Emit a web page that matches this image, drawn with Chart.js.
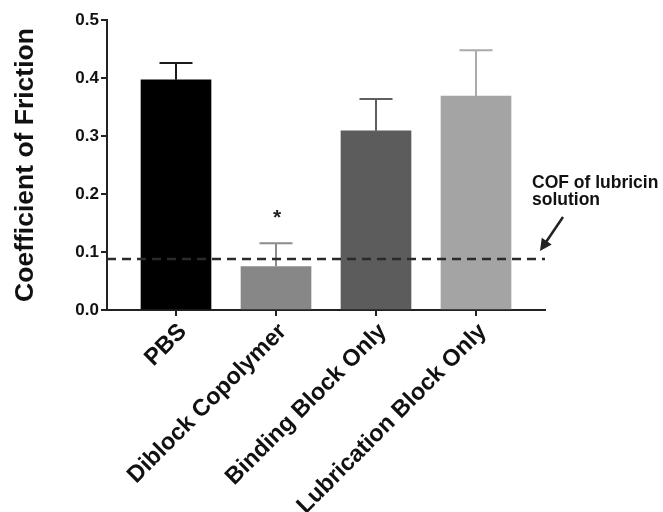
<!DOCTYPE html>
<html>
<head>
<meta charset="utf-8">
<script src="https://cdn.jsdelivr.net/npm/chart.js@4"></script>
<style>
  html, body { margin: 0; padding: 0; background: #fff; }
  #wrap { width: 663px; height: 512px; position: relative; }
</style>
</head>
<body>
<div id="wrap"><canvas id="chart"></canvas></div>
<script>
// values
const categories = ["PBS", "Diblock Copolymer", "Binding Block Only", "Lubrication Block Only"];
const means = [0.397, 0.075, 0.309, 0.369];
const errors = [0.029, 0.040, 0.055, 0.079];
const sigMarks = ["", "*", "", ""];
const lubricinCOF = 0.088;
const yTicks = [0, 0.1, 0.2, 0.3, 0.4, 0.5];

const barColors = ["#000000", "#878787", "#5c5c5c", "#a4a4a4"];
const errColors = ["#1a1a1a", "#8c8c8c", "#5f5f5f", "#aaaaaa"];
const axisColor = "#222";
const FONT = "'Liberation Sans', Arial, sans-serif";

// error bars, asterisk, dashed reference line, annotation
const extras = {
  id: "extras",
  afterDatasetsDraw(chart) {
    const ctx = chart.ctx;
    const xs = chart.scales.x, ys = chart.scales.y;
    const area = chart.chartArea;
    ctx.save();
    // error bars (upper only)
    for (let i = 0; i < means.length; i++) {
      const x = xs.getPixelForValue(i);
      const yb = ys.getPixelForValue(means[i]);
      const yt = ys.getPixelForValue(means[i] + errors[i]);
      ctx.strokeStyle = errColors[i];
      ctx.lineWidth = 2;
      ctx.beginPath();
      ctx.moveTo(x, yb);
      ctx.lineTo(x, yt);
      ctx.moveTo(x - 16.5, yt);
      ctx.lineTo(x + 16.5, yt);
      ctx.stroke();
      if (sigMarks[i]) {
        ctx.fillStyle = "#222";
        ctx.font = "bold 21px " + FONT;
        ctx.textAlign = "center";
        ctx.textBaseline = "middle";
        ctx.fillText(sigMarks[i], x + 1, yt - 25);
      }
    }
    // dashed line for lubricin solution
    const yl = ys.getPixelForValue(lubricinCOF);
    ctx.strokeStyle = "#2a2a2a";
    ctx.lineWidth = 2.5;
    ctx.setLineDash([9, 6]);
    ctx.beginPath();
    ctx.moveTo(area.left, yl);
    ctx.lineTo(area.right, yl);
    ctx.stroke();
    ctx.setLineDash([]);

    // annotation text
    ctx.fillStyle = "#111";
    ctx.font = "bold 17.5px " + FONT;
    ctx.textAlign = "left";
    ctx.textBaseline = "alphabetic";
    ctx.fillText("COF of lubricin", area.right - 13, yl - 71);
    ctx.fillText("solution", area.right - 13, yl - 54);

    // arrow
    const tipX = area.right - 5, tipY = yl - 8;
    const tailX = tipX + 23, tailY = tipY - 34;
    ctx.strokeStyle = "#222";
    ctx.fillStyle = "#222";
    ctx.lineWidth = 2.5;
    ctx.beginPath();
    ctx.moveTo(tailX, tailY);
    ctx.lineTo(tipX + 4, tipY - 6);
    ctx.stroke();
    const ang = Math.atan2(tipY - tailY, tipX - tailX);
    const hl = 12, hw = 6;
    ctx.beginPath();
    ctx.moveTo(tipX, tipY);
    ctx.lineTo(tipX - hl * Math.cos(ang) + hw * Math.sin(ang), tipY - hl * Math.sin(ang) - hw * Math.cos(ang));
    ctx.lineTo(tipX - hl * Math.cos(ang) - hw * Math.sin(ang), tipY - hl * Math.sin(ang) + hw * Math.cos(ang));
    ctx.closePath();
    ctx.fill();
    ctx.restore();
  }
};

new Chart(document.getElementById("chart"), {
  type: "bar",
  data: {
    datasets: [{
      data: categories.map((c, i) => ({ x: i, y: means[i] })),
      backgroundColor: barColors,
      borderWidth: 0,
      barThickness: 70
    }]
  },
  options: {
    responsive: true,
    maintainAspectRatio: false,
    animation: false,
    layout: { padding: { top: 20, right: 118, bottom: 0, left: 10 } },
    plugins: { legend: { display: false }, tooltip: { enabled: false } },
    scales: {
      x: {
        type: "linear",
        min: -0.69,
        max: 3.69,
        offset: false,
        afterBuildTicks: s => { s.ticks = categories.map((c, i) => ({ value: i })); },
        afterFit: s => { s.height = 202; },
        grid: { offset: false, drawOnChartArea: false, drawTicks: true, tickLength: 6, color: axisColor, lineWidth: 2 },
        border: { display: true, color: axisColor, width: 2 },
        ticks: {
          autoSkip: false,
          minRotation: 45,
          maxRotation: 45,
          padding: 2,
          labelOffset: 7,
          color: "#111",
          font: { family: FONT, size: 23.5, weight: "bold" },
          callback: v => categories[v]
        }
      },
      y: {
        min: 0,
        max: 0.5,
        afterBuildTicks: s => { s.ticks = yTicks.map(v => ({ value: v })); },
        afterFit: s => { s.width = 97; },
        grid: { drawOnChartArea: false, drawTicks: true, tickLength: 6, color: axisColor, lineWidth: 2 },
        border: { display: true, color: axisColor, width: 2 },
        ticks: {
          padding: 2,
          color: "#111",
          font: { family: FONT, size: 17, weight: "bold" },
          callback: v => v.toFixed(1)
        },
        title: {
          display: true,
          text: "Coefficient of Friction",
          color: "#111",
          font: { family: FONT, size: 26.5, weight: "bold" },
          padding: { top: 0, bottom: 0 }
        }
      }
    }
  },
  plugins: [extras]
});
</script>
</body>
</html>
